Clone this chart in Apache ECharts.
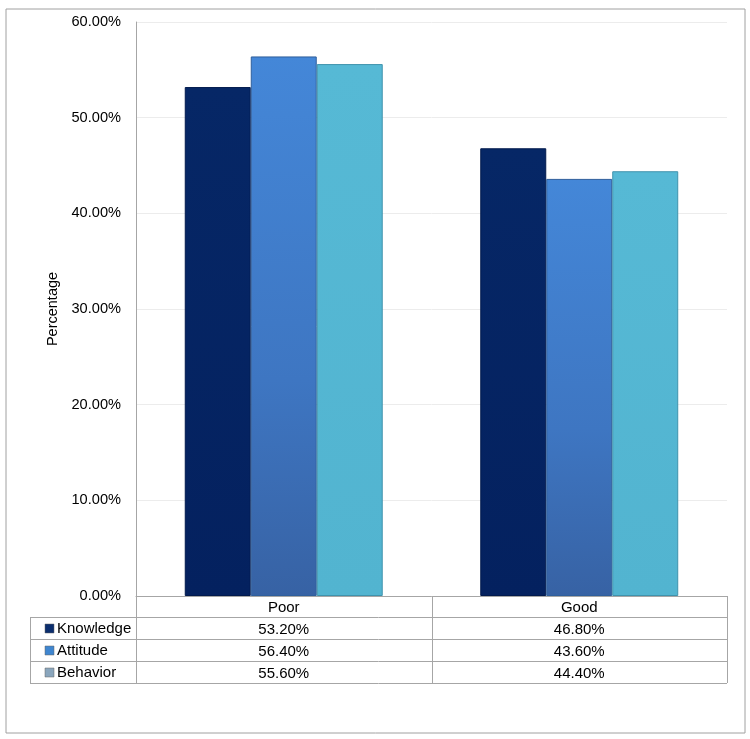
<!DOCTYPE html>
<html><head><meta charset="utf-8">
<script src="https://cdn.jsdelivr.net/npm/echarts@6/dist/echarts.min.js"></script>
<style>html,body{margin:0;padding:0;background:#fff}#c{width:750px;height:739px}</style>
</head><body><div id="c"></div>
<script>
const categories = ['Poor', 'Good'];
const seriesNames = ['Knowledge', 'Attitude', 'Behavior'];
const knowledge = [53.2, 46.8];
const attitude = [56.4, 43.6];
const behavior = [55.6, 44.4];
const yTicks = [0, 10, 20, 30, 40, 50, 60];
const values = [knowledge, attitude, behavior];

const FONT = 'Liberation Sans, Arial, sans-serif';
const G = {left: 136, right: 727, top: 22, bottom: 596};
const rowH = [21, 22, 22, 22];
const lineC = '#a6a6a6';

const colors = [
  new echarts.graphic.LinearGradient(0,0,0,1,[{offset:0,color:'#062766'},{offset:1,color:'#04215f'}]),
  new echarts.graphic.LinearGradient(0,0,0,1,[{offset:0,color:'#4487d8'},{offset:0.6,color:'#3e76c2'},{offset:1,color:'#3762a4'}]),
  new echarts.graphic.LinearGradient(0,0,0,1,[{offset:0,color:'#56b9d5'},{offset:1,color:'#52b4d0'}])
];
const borders = ['#021a4d', '#2f5f9c', '#3f93ad'];
const legendC = ['#0b2e6e', '#3f86d0', '#8aa6bd'];

const chart = echarts.init(document.getElementById('c'));

const xAxes = [{
  type: 'category', data: categories, position: 'bottom', gridIndex: 0,
  axisLine: {show: true, lineStyle: {color: lineC}},
  axisTick: {show: false},
  axisLabel: {color: '#000', fontFamily: FONT, fontSize: 15, margin: 4}
}];
let off = rowH[0];
seriesNames.forEach((n, i) => {
  xAxes.push({
    type: 'category', data: categories, position: 'bottom', offset: off,
    axisLine: {show: false}, axisTick: {show: false},
    axisLabel: {color: '#000', fontFamily: FONT, fontSize: 15, margin: 5,
      formatter: (v, idx) => values[i][idx].toFixed(2) + '%'}
  });
  off += rowH[i + 1];
});

const graphics = [];
graphics.push({type: 'rect', shape: {x: 6, y: 9, width: 739, height: 724}, style: {fill: 'none', stroke: '#a0a0a0', lineWidth: 1}, silent: true});
let y = G.bottom;
const ys = [y];
rowH.forEach(h => { y += h; ys.push(y); });
ys.forEach((yy, k) => {
  graphics.push({type: 'line', shape: {x1: k === 0 ? G.left : 30, y1: yy + 0.5, x2: G.right, y2: yy + 0.5}, style: {stroke: lineC, lineWidth: 1}, silent: true});
});
[G.left, (G.left + G.right) / 2, G.right].forEach(xx => {
  graphics.push({type: 'line', shape: {x1: Math.round(xx) + 0.5, y1: ys[0], x2: Math.round(xx) + 0.5, y2: ys[ys.length - 1]}, style: {stroke: lineC, lineWidth: 1}, silent: true});
});
graphics.push({type: 'line', shape: {x1: 30.5, y1: ys[1], x2: 30.5, y2: ys[ys.length - 1]}, style: {stroke: lineC, lineWidth: 1}, silent: true});
seriesNames.forEach((n, i) => {
  const cy = (ys[i + 1] + ys[i + 2]) / 2 + 0.5;
  graphics.push({type: 'rect', shape: {x: 45, y: cy - 4.5, width: 9, height: 9}, style: {fill: legendC[i], stroke: '#666', lineWidth: 0.5}, silent: true});
  graphics.push({type: 'text', x: 57, y: cy, style: {text: n, fontFamily: FONT, fontSize: 15, fill: '#000', textVerticalAlign: 'middle', verticalAlign: 'middle'}, silent: true});
});

chart.setOption({
  animation: false,
  grid: {left: G.left, right: 750 - G.right, top: G.top, bottom: 739 - G.bottom, containLabel: false},
  xAxis: xAxes,
  yAxis: {
    type: 'value', min: 0, max: 60, interval: 10,
    name: 'Percentage', nameLocation: 'middle', nameGap: 73, nameRotate: 90,
    nameTextStyle: {color: '#000', fontFamily: FONT, fontSize: 14.5},
    axisLine: {show: true, lineStyle: {color: lineC}},
    axisTick: {show: false},
    axisLabel: {color: '#000', fontFamily: FONT, fontSize: 14.6, margin: 15,
      formatter: v => v.toFixed(2) + '%'},
    splitLine: {lineStyle: {color: '#ececec'}}
  },
  series: seriesNames.map((n, i) => ({
    name: n, type: 'bar', data: values[i], barGap: '0%', barCategoryGap: '33%',
    itemStyle: {color: colors[i], borderColor: borders[i], borderWidth: 1}
  })),
  graphic: graphics
});
</script></body></html>
